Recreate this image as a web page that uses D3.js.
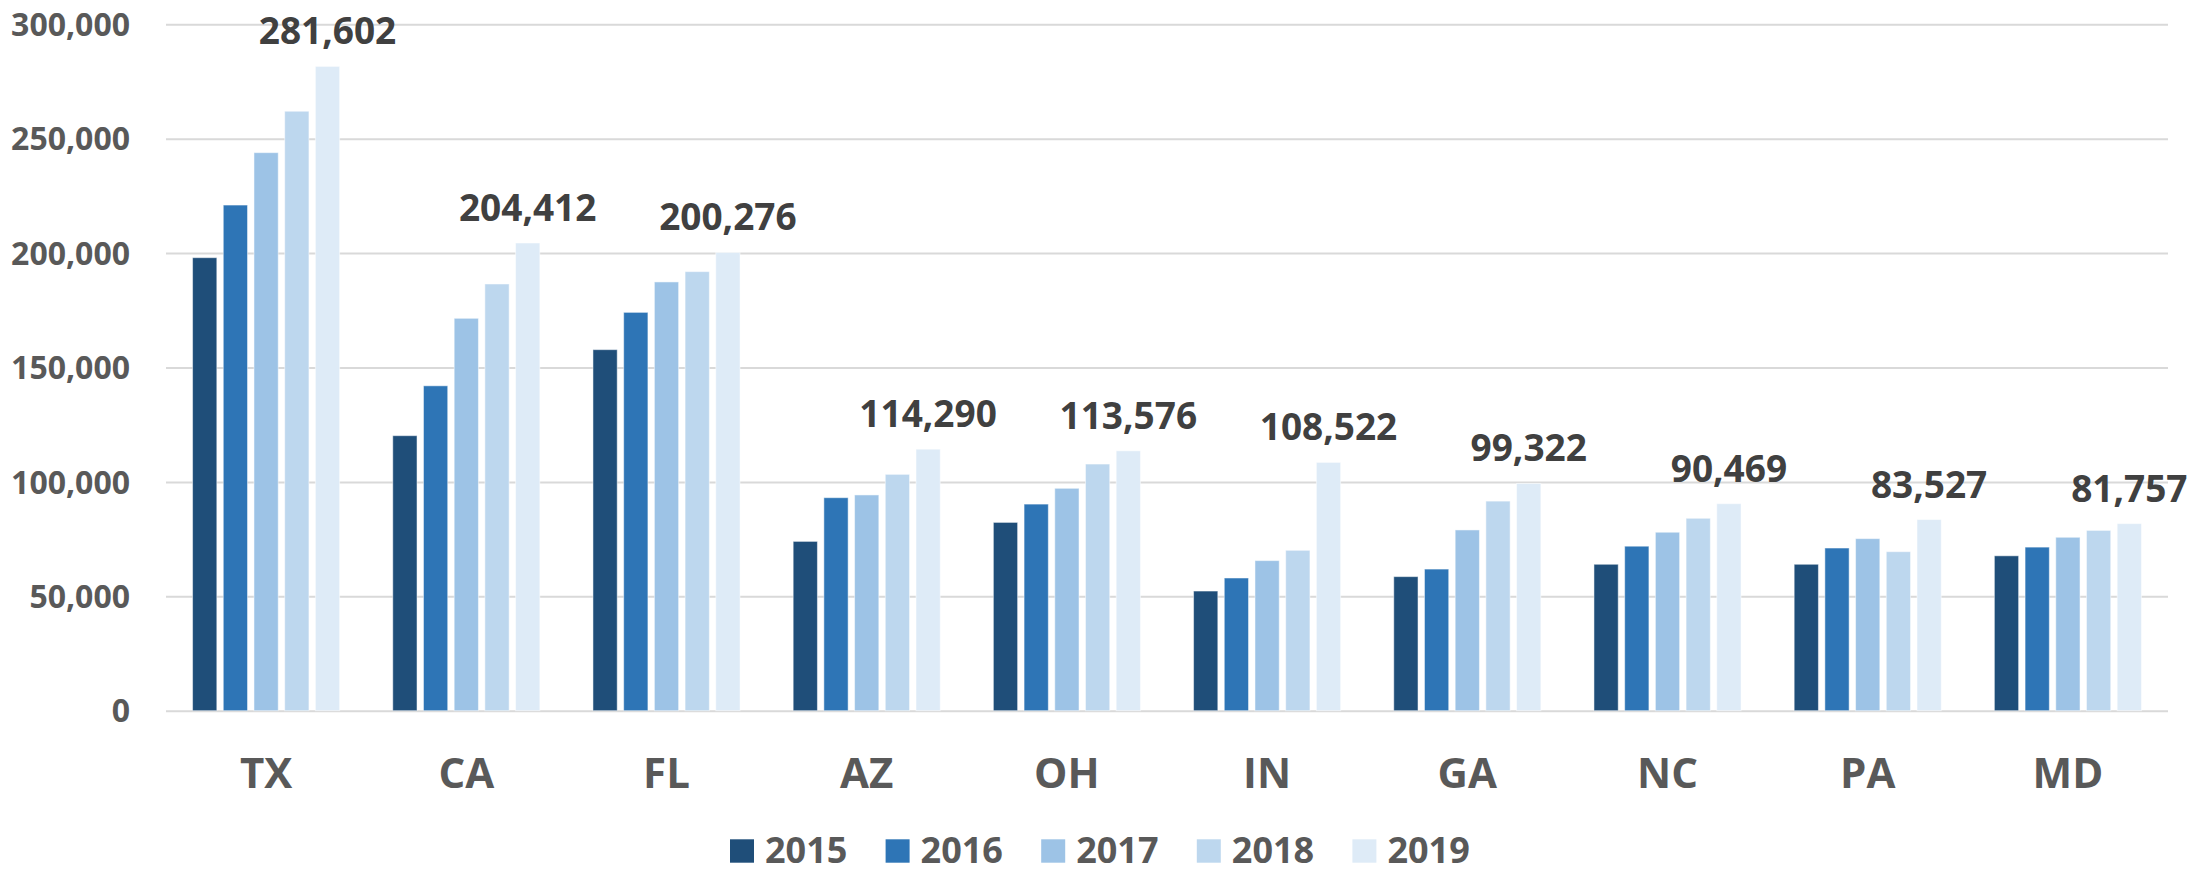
<!DOCTYPE html>
<html lang="en">
<head>
	<meta charset="UTF-8">
	<title>Chart</title>
	<style type="text/css">
		body { margin: 0; background: #fff; }
		svg text { font-family: "Open Sans", sans-serif; font-weight: bold; }
	</style>
</head>
<body>
	<script type="text/javascript" src="https://cdn.jsdelivr.net/npm/d3@7"></script>
	<script type="text/javascript">
		var states = ['TX', 'CA', 'FL', 'AZ', 'OH', 'IN', 'GA', 'NC', 'PA', 'MD'];
		var years = ['2015', '2016', '2017', '2018', '2019'];
		var v2015 = [198000, 120200, 157800, 74000, 82300, 52300, 58600, 64000, 64000, 67700];
		var v2016 = [221000, 142000, 174100, 93100, 90300, 58000, 61900, 71900, 71100, 71500];
		var v2017 = [243900, 171500, 187400, 94300, 97200, 65600, 79000, 78000, 75200, 75800];
		var v2018 = [262000, 186500, 191900, 103300, 107800, 70100, 91600, 84100, 69500, 78800];
		var v2019 = [281602, 204412, 200276, 114290, 113576, 108522, 99322, 90469, 83527, 81757];
		var yTicks = [0, 50000, 100000, 150000, 200000, 250000, 300000];
		var colors = ['#1f4e79', '#2e75b6', '#9dc3e6', '#bdd7ee', '#deebf7'];

		var series = [v2015, v2016, v2017, v2018, v2019];
		var rows = states.map(function (s, i) {
			return {
				state: s,
				vals: years.map(function (yr, j) { return {year: yr, value: series[j][i]}; })
			};
		});

		var w = 2190;
		var h = 873;
		var plot = {left: 166, right: 2168, top: 24.3, bottom: 710.7};

		var svg = d3.select('body')
					.append('svg')
					.attr('width', w)
					.attr('height', h);

		var x0 = d3.scaleBand().domain(states).range([plot.left, plot.right]);
		var x1 = d3.scaleBand().domain(years).range([0, x0.bandwidth()])
					.paddingInner(0.21).paddingOuter(0.865);
		var y = d3.scaleLinear().domain([0, 300000]).range([plot.bottom, plot.top]);
		var color = d3.scaleOrdinal().domain(years).range(colors);

		// gridlines + y labels
		var yAxis = svg.append('g')
					.attr('transform', 'translate(' + plot.left + ',0)')
					.call(d3.axisLeft(y)
						.tickValues(yTicks)
						.tickFormat(d3.format(','))
						.tickSize(-(plot.right - plot.left))
						.tickPadding(36));
		yAxis.select('.domain').remove();
		yAxis.selectAll('line').attr('stroke', '#d9d9d9').attr('stroke-width', 2);
		yAxis.selectAll('text')
			.attr('fill', '#595959')
			.style('font-size', '32px')
			.attr('dy', '0.35em');

		// x labels
		var xAxis = svg.append('g')
					.attr('transform', 'translate(0,' + plot.bottom + ')')
					.call(d3.axisBottom(x0).tickSize(0).tickPadding(47));
		xAxis.select('.domain').remove();
		xAxis.selectAll('text')
			.attr('fill', '#595959')
			.style('font-size', '42px');

		var groups = svg.selectAll('g.state')
					.data(rows)
					.enter()
					.append('g')
					.attr('class', 'state')
					.attr('transform', function (d) { return 'translate(' + x0(d.state) + ',0)'; });

		groups.selectAll('rect')
			.data(function (d) { return d.vals; })
			.enter()
			.append('rect')
			.attr('x', function (d) { return x1(d.year); })
			.attr('y', function (d) { return y(d.value); })
			.attr('width', x1.bandwidth())
			.attr('height', function (d) { return y(0) - y(d.value); })
			.attr('fill', function (d) { return color(d.year); })
			.attr('stroke', '#ffffff')
			.attr('stroke-opacity', 0.5)
			.attr('stroke-width', 1);

		// value labels over the 2019 bar
		groups.append('text')
			.attr('x', function (d) { return x1('2019') + x1.bandwidth() / 2; })
			.attr('y', function (d) { return y(d.vals[4].value) - 22; })
			.attr('text-anchor', 'middle')
			.attr('fill', '#404040')
			.style('font-size', '37px')
			.text(function (d) { return d3.format(',')(d.vals[4].value); });

		// legend
		var legend = svg.selectAll('g.legend')
					.data(years)
					.enter()
					.append('g')
					.attr('class', 'legend')
					.attr('transform', function (d, i) { return 'translate(' + (730 + i * 155.6) + ',839.3)'; });
		legend.append('rect')
			.attr('width', 24)
			.attr('height', 23.4)
			.attr('fill', function (d) { return color(d); });
		legend.append('text')
			.attr('x', 35)
			.attr('y', 24)
			.attr('fill', '#595959')
			.style('font-size', '36px')
			.text(function (d) { return d; });
	</script>
</body>
</html>
